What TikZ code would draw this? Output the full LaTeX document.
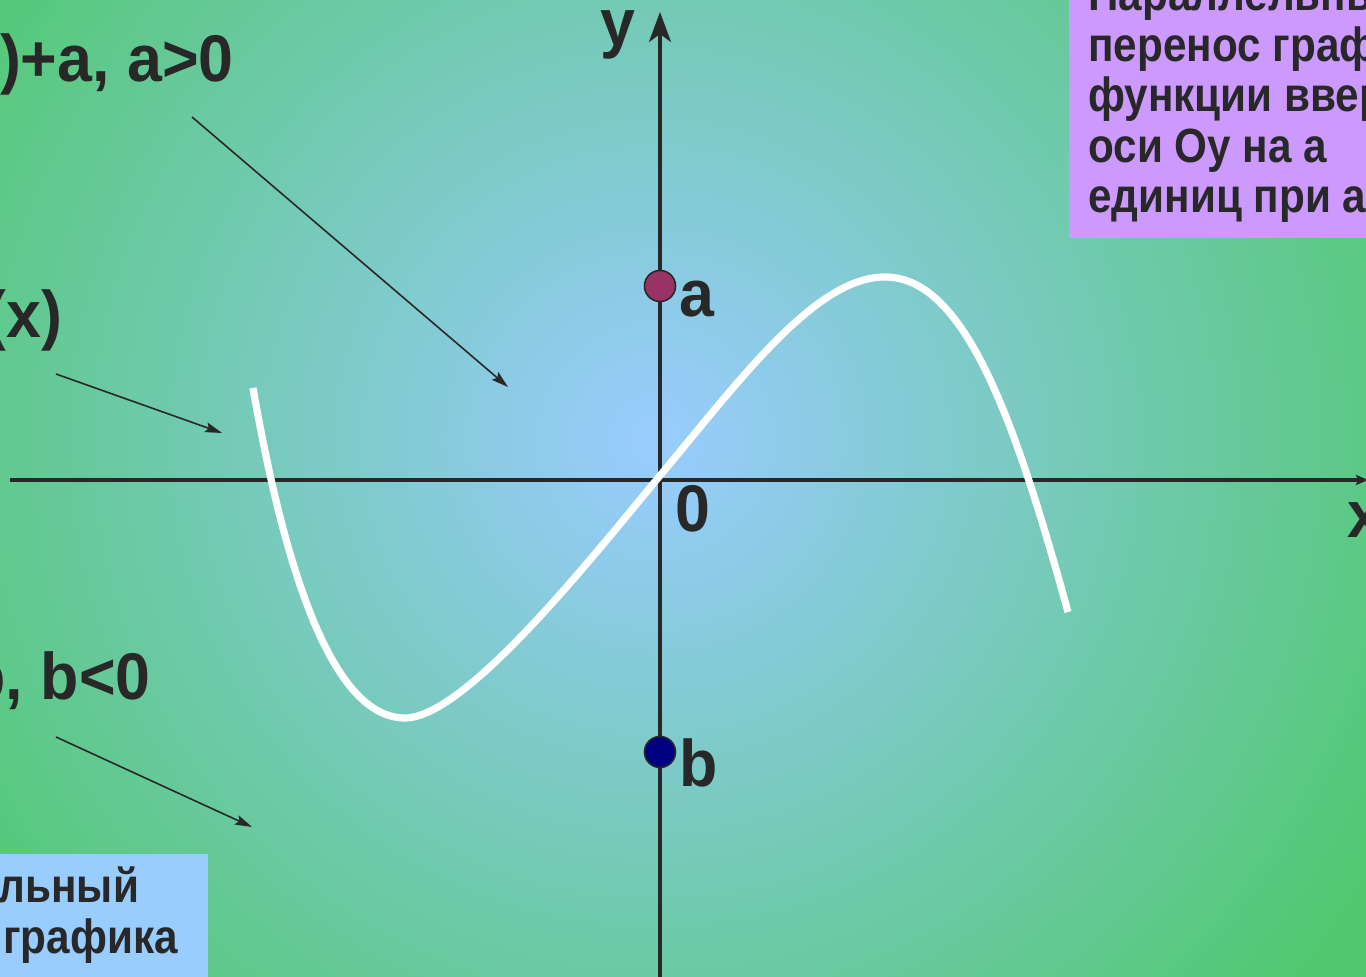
\documentclass[tikz,border=0pt]{standalone}
\usepackage{fontspec}
\setmainfont{Liberation Sans}
\usetikzlibrary{arrows.meta}
\definecolor{bgin}{RGB}{153,204,255}
\definecolor{bgout}{RGB}{80,200,110}
\definecolor{ink}{RGB}{40,40,40}
\definecolor{lilac}{RGB}{204,153,255}
\definecolor{sky}{RGB}{153,204,255}
\definecolor{plum}{RGB}{153,51,102}
\definecolor{navyb}{RGB}{0,0,128}
\tikzset{
	lbl/.style={font=\fontsize{33}{40}\selectfont\bfseries, text=ink, inner sep=0pt, xscale=0.95},
	boxtxt/.style={font=\fontsize{24}{25}\selectfont\bfseries, text=ink, inner sep=0pt, xscale=0.88},
	ptr/.style={draw=ink, line width=0.8pt, -{Stealth[length=8.5pt, width=5pt, inset=1.5pt]}},
	axis/.style={draw=ink, line width=1.6pt},
	dot/.style={circle, draw=ink, line width=0.8pt, minimum size=15.5pt, inner sep=0pt}
}

\begin{document}
\begin{tikzpicture}[x=0.5pt, y=-0.5pt]
	\useasboundingbox (0,0) rectangle (1366,977);
	\clip (0,0) rectangle (1366,977);
	
	% ==========================================
	% Background and caption boxes
	% ==========================================
	\shade[inner color=bgin, outer color=bgout] (-195,-410) rectangle (1505,1290);
	\fill[lilac] (1069,-10) rectangle (1400,238);
	\fill[sky] (-10,854) rectangle (208,990);
	
	% --- Axes ---
	\coordinate (xl) at (10,480);
	\coordinate (xr) at (1368,480);
	\coordinate (yb) at (660,990);
	\coordinate (yt) at (660,12);
	\draw[axis, -{Stealth[length=6pt, width=5pt, inset=1pt]}] (xl) -- (xr);
	\draw[axis, -{Stealth[length=15pt, width=11pt, inset=4pt]}] (yb) -- (yt);
	\node[lbl, anchor=base] (lblY) at (618,46) {y};
	\node[lbl, anchor=base west] (lblX) at (1347,538) {x};
	\node[lbl, anchor=base] (lblO) at (693,532) {0};
	
	% --- The graph y = f(x) ---
	\draw[white, line width=3.6pt] (253,388) .. controls (290,600) and (340,718) .. (405,718)
		.. controls (465,718) and (590,560) .. (658,478)
		.. controls (740,380) and (815,277) .. (885,277)
		.. controls (965,277) and (1015,420) .. (1068,612);
	
	% --- Shift points on Oy ---
	\node[dot, fill=plum] (dotA) at (660,286) {};
	\node[dot, fill=navyb] (dotB) at (660,752) {};
	\node[lbl, anchor=base] (lblA) at (697,317) {a};
	\node[lbl, anchor=base] (lblB) at (699,787) {b};
	
	% ==========================================
	% Formulas with pointers
	% ==========================================
	\node[lbl, anchor=base east] (fUp) at (234,82) {y=f(x)+a, a>0};
	\node[lbl, anchor=base east] (fBase) at (63,338) {y=f(x)};
	\node[lbl, anchor=base east] (fDown) at (151,700) {y=f(x)+b, b<0};
	
	\coordinate (pUs) at (192,117);
	\coordinate (pUe) at (508,387);
	\coordinate (pBs) at (56,374);
	\coordinate (pBe) at (222,433);
	\coordinate (pDs) at (56,737);
	\coordinate (pDe) at (252,827);
	\draw[ptr] (pUs) -- (pUe);
	\draw[ptr] (pBs) -- (pBe);
	\draw[ptr] (pDs) -- (pDe);
	
	% --- Captions ---
	\foreach \t [count=\i] in {Параллельный, перенос графика, функции вверх вдоль, оси Оу на а, единиц при а>0}
		\node[boxtxt, anchor=base west] (up\i) at (1088, {11+50.5*(\i-1)}) {\t};
	
	\node[boxtxt, anchor=base east] (dn2) at (178,953) {перенос графика};
	\path (dn2.base west) ++(0,-50) node[boxtxt, anchor=base west] (dn1) {Параллельный};
	
\end{tikzpicture}
\end{document}
